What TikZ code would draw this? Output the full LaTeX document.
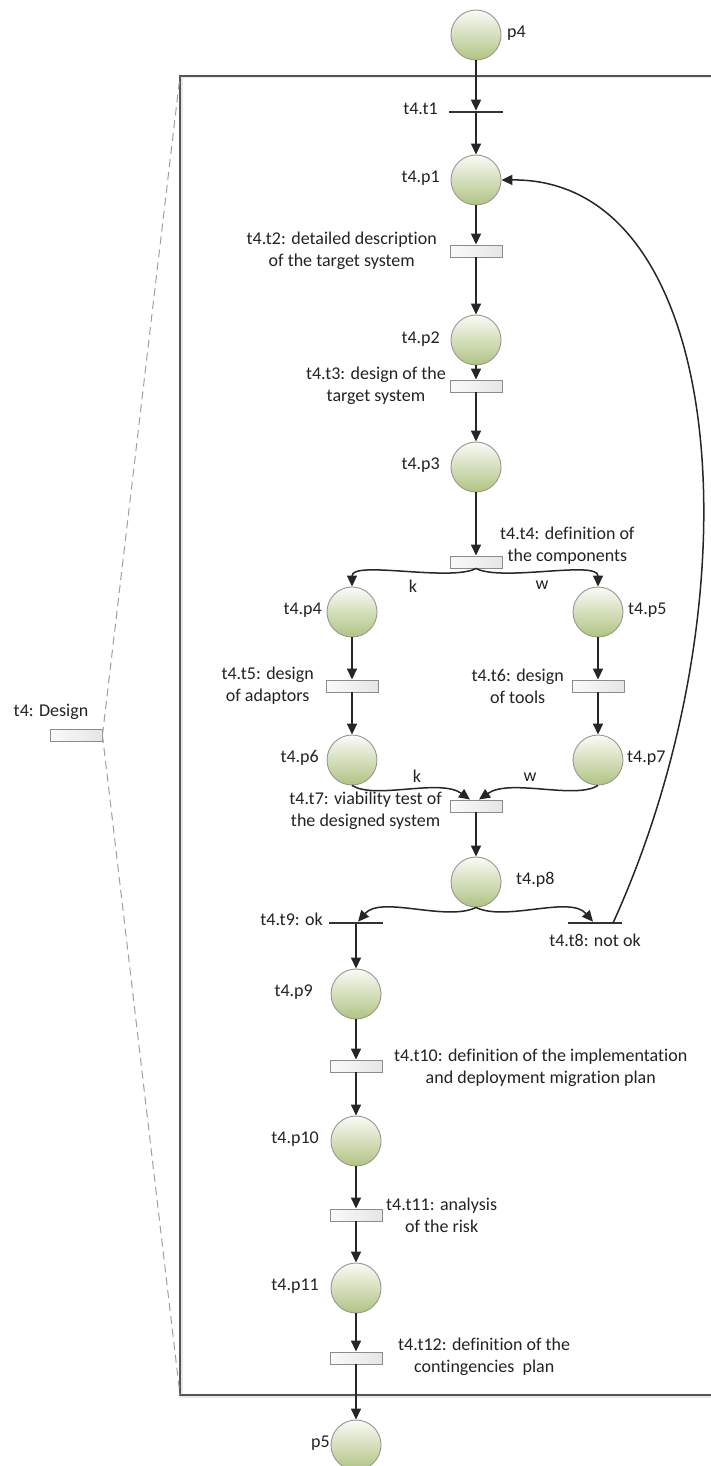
\documentclass[tikz,border=0pt]{standalone}
\usepackage{fontspec}
\setmainfont{Carlito}[Ligatures=NoCommon]
\usetikzlibrary{arrows.meta,calc}
\definecolor{txt}{RGB}{35,35,35}
\definecolor{pltop}{RGB}{250,251,245}
\definecolor{plbot}{RGB}{176,195,130}
\definecolor{plbd}{RGB}{150,150,150}
\definecolor{trbd}{RGB}{140,140,140}
\definecolor{frm}{RGB}{85,85,85}
\definecolor{dsh}{RGB}{160,160,160}
\begin{document}
\begin{tikzpicture}[x=1pt,y=-1pt,
 place/.style={circle,minimum size=50pt,inner sep=0pt,draw=plbd,line width=0.9pt,top color=pltop,bottom color=plbot},
 trans/.style={rectangle,minimum width=52pt,minimum height=12pt,inner sep=0pt,draw=trbd,line width=0.9pt,left color=gray!4,right color=gray!20},
 tbar/.style={rectangle,minimum width=54pt,minimum height=2.2pt,inner sep=0pt,fill=black!80},
 lbl/.style={text=txt,inner sep=0pt,font=\fontsize{18}{22}\selectfont,align=center},
 arc/.style={line width=1.5pt,black!85,-{Triangle[length=11pt,width=10pt]}},
]
\useasboundingbox (0,0) rectangle (711,1466);
\clip (0,0) rectangle (711,1466);
\fill[white] (0,0) rectangle (711,1466);

% frame and zoom lines
\coordinate (ftl) at (180,76);
\coordinate (fbl) at (180,1395);
\coordinate (fbr) at (740,1395);
\draw[gray!18,line width=3pt] ([shift={(1,1)}]fbr) -| ([shift={(1,1)}]ftl) -- (740,77);
\draw[frm,line width=1.8pt] (fbr) -| (ftl) -- (740,76);

\node[trans] (tD) at (76,735) {};
\node[lbl,anchor=center] (tDl) at (51,712) {t4: Design};
\draw[dsh,line width=1pt,dash pattern=on 8pt off 5pt] (tD.east) -- (ftl);
\draw[dsh,line width=1pt,dash pattern=on 8pt off 5pt] (tD.east) -- (fbl);

% places
\node[place] (p4) at (476,35) {};
\node[place] (q1) at (476,180) {};
\node[place] (q2) at (476,340) {};
\node[place] (q3) at (476,467) {};
\node[place] (q4) at (352,612) {};
\node[place] (q5) at (598,612) {};
\node[place] (q6) at (352,760) {};
\node[place] (q7) at (598,760) {};
\node[place] (q8) at (476,882) {};
\node[place] (q9) at (356,994) {};
\node[place] (q10) at (356,1141) {};
\node[place] (q11) at (356,1288) {};
\node[place] (p5) at (356,1445) {};

% transitions
\node[tbar] (t1) at (476,112) {};
\node[trans] (t2) at (476,251) {};
\node[trans] (t3) at (476,386) {};
\node[trans] (t4) at (476,562) {};
\node[trans] (t5) at (352,686) {};
\node[trans] (t6) at (598,686) {};
\node[trans] (t7) at (476,806) {};
\node[tbar] (t9) at (356,923) {};
\node[tbar] (t8) at (595,923) {};
\node[trans] (t10) at (356,1066) {};
\node[trans] (t11) at (356,1215) {};
\node[trans] (t12) at (356,1358) {};

% labels
\node[lbl,anchor=mid west] (lp4) at (507,35) {p4};
\node[lbl,anchor=mid east] (lt1) at (438,112) {t4.t1};
\node[lbl,anchor=mid east] (lq1) at (440,180) {t4.p1};
\node[lbl,anchor=east] (lt2) at (437,251) {t4.t2: detailed description\\of the target system};
\node[lbl,anchor=mid east] (lq2) at (440,341) {t4.p2};
\node[lbl,anchor=east] (lt3) at (446,386) {t4.t3: design of the\\target system};
\node[lbl,anchor=mid east] (lq3) at (440,467) {t4.p3};
\node[lbl,anchor=west] (lt4) at (500,546) {t4.t4: definition of\\the components};
\node[lbl] (lk1) at (413,586) {k};
\node[lbl] (lw1) at (542,585) {w};
\node[lbl,anchor=mid east] (lq4) at (322,612) {t4.p4};
\node[lbl,anchor=mid west] (lq5) at (628,612) {t4.p5};
\node[lbl,anchor=east] (lt5) at (314,686) {t4.t5: design\\of adaptors};
\node[lbl,anchor=east] (lt6) at (564,686) {t4.t6: design\\of tools};
\node[lbl,anchor=mid east] (lq6) at (319,760) {t4.p6};
\node[lbl,anchor=mid west] (lq7) at (627,760) {t4.p7};
\node[lbl] (lk2) at (417,776) {k};
\node[lbl] (lw2) at (530,777) {w};
\node[lbl,anchor=east] (lt7) at (442,811) {t4.t7: viability test of\\the designed system};
\node[lbl,anchor=mid west] (lq8) at (516,882) {t4.p8};
\node[lbl,anchor=mid east] (lt9) at (323,923) {t4.t9: ok};
\node[lbl] (lt8) at (595,940) {t4.t8: not ok};
\node[lbl,anchor=mid east] (lq9) at (313,994) {t4.p9};
\node[lbl,anchor=west] (lt10) at (394,1068) {t4.t10: definition of the implementation\\and deployment migration plan};
\node[lbl,anchor=mid east] (lq10) at (319,1141) {t4.p10};
\node[lbl,anchor=west] (lt11) at (386,1215) {t4.t11: analysis\\of the risk};
\node[lbl,anchor=mid east] (lq11) at (319,1288) {t4.p11};
\node[lbl,anchor=west] (lt12) at (398,1357) {t4.t12: definition of the\\contingencies\ \ plan};
\node[lbl,anchor=mid east] (lp5) at (330,1445) {p5};

% arcs
\draw[arc] (p4) -- (t1);
\draw[arc] (t1) -- (q1);
\draw[arc] (q1) -- (t2);
\draw[arc] (t2) -- (q2);
\draw[arc] (q2) -- (t3);
\draw[arc] (t3) -- (q3);
\draw[arc] (q3) -- (t4);
\draw[arc] (t4.south) .. controls (450,582) and (352,560) .. (q4.north);
\draw[arc] (t4.south) .. controls (502,582) and (598,560) .. (q5.north);
\draw[arc] (q4) -- (t5);
\draw[arc] (t5) -- (q6);
\draw[arc] (q5) -- (t6);
\draw[arc] (t6) -- (q7);
\draw[arc] (q6.south) .. controls (375,800) and (440,778) .. ([xshift=-6pt]t7.north);
\draw[arc] (q7.south) .. controls (575,800) and (510,778) .. ([xshift=3pt]t7.north);
\draw[arc] (t7) -- (q8);
\draw[arc] (q8.south) .. controls (446,922) and (381,895) .. ([xshift=2pt]t9.north);
\draw[arc] (q8.south) .. controls (506,922) and (570,895) .. ([xshift=-2pt]t8.north);
\draw[arc] ([xshift=18pt]t8.center) .. controls (760,600) and (730,178) .. (q1.east);
\draw[arc] (t9) -- (q9);
\draw[arc] (q9) -- (t10);
\draw[arc] (t10) -- (q10);
\draw[arc] (q10) -- (t11);
\draw[arc] (t11) -- (q11);
\draw[arc] (q11) -- (t12);
\draw[arc] (t12) -- (p5);
\end{tikzpicture}
\end{document}
